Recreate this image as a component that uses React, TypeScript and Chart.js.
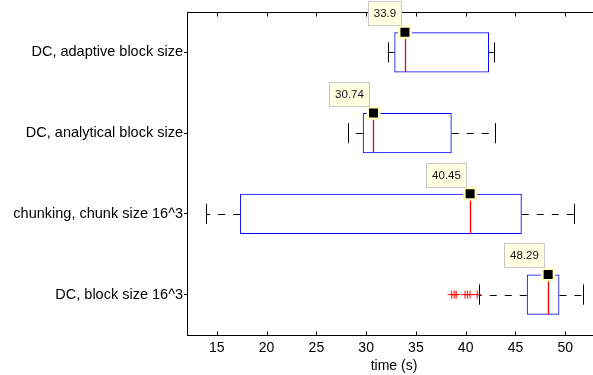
import React, { useEffect, useRef } from 'react';
import { Chart, registerables } from 'chart.js';

Chart.register(...registerables);

// ---- data ----
const categories = [
  'DC, adaptive block size',
  'DC, analytical block size',
  'chunking, chunk size 16^3',
  'DC, block size 16^3',
];
const whiskerLow = [32.17, 28.15, 13.91, 41.32];
const q1 = [32.83, 29.66, 17.33, 46.14];
const median = [33.9, 30.74, 40.45, 48.29];
const q3 = [42.35, 38.6, 45.64, 49.42];
const whiskerHigh = [42.85, 42.95, 50.9, 51.83];
const outlierValues = [38.6, 38.85, 39.05, 39.94, 40.17, 40.44, 41.16];
const outlierCategory = 4; // position of 'DC, block size 16^3'
const xTicks = [15, 20, 25, 30, 35, 40, 45, 50];
const xMin = 12;
const xMax = 53.6;
const xTitle = 'time (s)';

const FONT = '"Liberation Sans", Arial, Helvetica, sans-serif';
const CANVAS_W = 601;
const CANVAS_H = 375;

export default function App() {
  const ref = useRef<HTMLCanvasElement>(null);

  useEffect(() => {
    const canvas = ref.current;
    if (!canvas) return;
    const positions = categories.map((_, i) => i + 1);

    const crisp = (v: number) => Math.round(v) + 0.5;

    const boxPlugin = {
      id: 'boxParts',
      beforeDatasetsDraw(chart: any) {
        const { ctx, chartArea } = chart;
        const x = chart.scales.x;
        const y = chart.scales.y;
        ctx.save();
        ctx.lineWidth = 1;
        ctx.strokeStyle = '#000';
        ctx.setLineDash([]);
        // top axis line
        const top = crisp(chartArea.top);
        ctx.beginPath();
        ctx.moveTo(chartArea.left, top);
        ctx.lineTo(chartArea.right, top);
        ctx.stroke();
        // inward tick marks top & bottom
        const bottom = crisp(chartArea.bottom);
        xTicks.forEach((v) => {
          const px = crisp(x.getPixelForValue(v));
          ctx.beginPath();
          ctx.moveTo(px, top);
          ctx.lineTo(px, top + 4);
          ctx.moveTo(px, bottom);
          ctx.lineTo(px, bottom - 4);
          ctx.stroke();
        });

        positions.forEach((p, i) => {
          const yc = crisp(y.getPixelForValue(p));
          const capT = y.getPixelForValue(p - 0.125);
          const capB = y.getPixelForValue(p + 0.125);
          const xLo = x.getPixelForValue(whiskerLow[i]);
          const xQ1 = x.getPixelForValue(q1[i]);
          const xQ3 = x.getPixelForValue(q3[i]);
          const xHi = x.getPixelForValue(whiskerHigh[i]);
          // dashed whiskers
          ctx.strokeStyle = '#000';
          ctx.setLineDash([7, 8]);
          ctx.beginPath();
          ctx.moveTo(xQ3, yc);
          ctx.lineTo(xHi, yc);
          ctx.stroke();
          ctx.beginPath();
          ctx.moveTo(xQ1, yc);
          ctx.lineTo(xLo, yc);
          ctx.stroke();
          // caps
          ctx.setLineDash([]);
          ctx.beginPath();
          ctx.moveTo(crisp(xLo), capT);
          ctx.lineTo(crisp(xLo), capB);
          ctx.moveTo(crisp(xHi), capT);
          ctx.lineTo(crisp(xHi), capB);
          ctx.stroke();
        });
        ctx.restore();
      },
      afterDatasetsDraw(chart: any) {
        const { ctx } = chart;
        const x = chart.scales.x;
        const y = chart.scales.y;
        ctx.save();
        // medians (below the marker)
        ctx.setLineDash([]);
        ctx.lineWidth = 1.3;
        ctx.strokeStyle = 'rgb(255,0,0)';
        positions.forEach((p, i) => {
          const xm = crisp(x.getPixelForValue(median[i]));
          const yTop = y.getPixelForValue(p - 0.25);
          const yBot = y.getPixelForValue(p + 0.25);
          ctx.beginPath();
          ctx.moveTo(xm, yTop + 7);
          ctx.lineTo(xm, yBot - 0.5);
          ctx.stroke();
        });
        // value labels
        ctx.lineWidth = 1;
        ctx.font = `11.5px ${FONT}`;
        ctx.textAlign = 'center';
        ctx.textBaseline = 'middle';
        positions.forEach((p, i) => {
          const mx = x.getPixelForValue(median[i]);
          const my = y.getPixelForValue(p - 0.25);
          const text = String(median[i]);
          const w = Math.round(ctx.measureText(text).width + 12);
          const h = 25;
          const right = Math.round(mx - 3);
          const bot = Math.round(my - 6);
          const left = right - w;
          const tp = bot - h;
          ctx.fillStyle = '#ffffe1';
          ctx.fillRect(left, tp, w, h);
          ctx.strokeStyle = '#c8c8c8';
          ctx.strokeRect(left + 0.5, tp + 0.5, w - 1, h - 1);
          ctx.fillStyle = '#111';
          ctx.fillText(text, left + w / 2, tp + h / 2 + 0.5);
        });
        ctx.restore();
      },
    };

    const chart = new Chart(canvas, {
      type: 'bar',
      data: {
        datasets: [
          {
            type: 'scatter',
            label: 'median marker',
            data: median.map((m, i) => ({ x: m, y: positions[i] - 0.25 })),
            pointStyle: 'rect',
            pointRadius: 8.13,
            pointBackgroundColor: '#000',
            pointBorderColor: '#ffffc8',
            pointBorderWidth: 2.5,
            clip: false,
            order: 0,
          } as any,
          {
            type: 'scatter',
            label: 'outliers',
            data: outlierValues.map((v) => ({ x: v, y: outlierCategory })),
            pointStyle: 'cross',
            pointRadius: 4,
            pointBorderColor: '#ff0000',
            pointBackgroundColor: '#ff0000',
            pointBorderWidth: 1,
            order: 1,
          } as any,
          {
            type: 'bar',
            label: 'box',
            data: positions.map((p, i) => ({ y: p, x: [q1[i], q3[i]] })),
            backgroundColor: 'rgba(0,0,0,0)',
            borderColor: '#0000ff',
            borderWidth: 1,
            borderSkipped: false,
            barPercentage: 0.5,
            categoryPercentage: 1,
            order: 2,
          } as any,
        ],
      },
      options: {
        indexAxis: 'y',
        responsive: false,
        maintainAspectRatio: false,
        animation: false,
        events: [],
        layout: { autoPadding: false, padding: { top: 12, left: 0, right: 0, bottom: 0 } },
        plugins: {
          legend: { display: false },
          tooltip: { enabled: false },
        },
        scales: {
          x: {
            type: 'linear',
            min: xMin,
            max: xMax,
            afterBuildTicks: (s: any) => {
              s.ticks = xTicks.map((v) => ({ value: v }));
            },
            afterFit: (s: any) => {
              s.height = 40;
            },
            grid: { display: false, drawTicks: false },
            border: { display: true, color: '#000', width: 1 },
            ticks: {
              color: '#000',
              font: { family: FONT, size: 14 },
              padding: 5,
              maxRotation: 0,
              autoSkip: false,
            },
            title: {
              display: true,
              text: xTitle,
              color: '#000',
              font: { family: FONT, size: 14 },
              padding: { top: 0, bottom: 0 },
            },
          },
          y: {
            type: 'linear',
            min: 0.5,
            max: 4.5,
            reverse: true,
            offset: false,
            afterBuildTicks: (s: any) => {
              s.ticks = categories.map((_, i) => ({ value: i + 1 }));
            },
            afterFit: (s: any) => {
              s.width = 187;
            },
            grid: {
              display: true,
              offset: false,
              drawOnChartArea: false,
              drawTicks: true,
              tickLength: 3,
              color: '#000',
              lineWidth: 1,
            },
            border: { display: true, color: '#000', width: 1 },
            ticks: {
              color: '#000',
              font: { family: FONT, size: 14.5 },
              padding: 1,
              autoSkip: false,
              callback: (v: any) => categories[Number(v) - 1] ?? '',
            },
          },
        },
      } as any,
      plugins: [boxPlugin],
    });

    return () => chart.destroy();
  }, []);

  return (
    <div
      style={{
        position: 'fixed',
        left: 0,
        top: 0,
        width: 593,
        height: CANVAS_H,
        overflow: 'hidden',
        background: '#fff',
      }}
    >
      <canvas
        ref={ref}
        width={CANVAS_W}
        height={CANVAS_H}
        style={{ width: CANVAS_W, height: CANVAS_H, display: 'block' }}
      />
    </div>
  );
}
